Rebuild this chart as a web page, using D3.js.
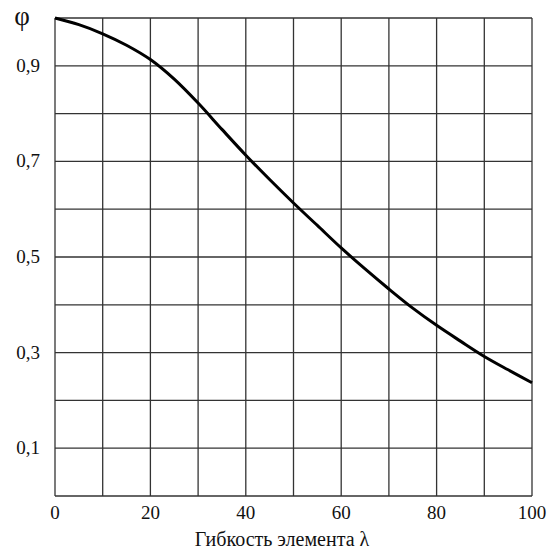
<!DOCTYPE html>
<html lang="ru">
<head>
    <meta charset="UTF-8">
    <script src="https://d3js.org/d3.v7.min.js"></script>
    <title>φ(λ)</title>
    <style>
        body { margin: 0; background: #fff; }
    </style>
</head>
<body>
    <script>
        // curve
        const lambda = [0, 5, 10, 15, 20, 25, 30, 35, 40, 45, 50, 55, 60, 65, 70, 75, 80, 85, 90, 95, 100];
        const phi = [1.0, 0.986, 0.967, 0.943, 0.913, 0.872, 0.822, 0.767, 0.713, 0.662, 0.613, 0.566, 0.519, 0.475, 0.433, 0.393, 0.357, 0.324, 0.292, 0.264, 0.237];
        const xTicks = [0, 20, 40, 60, 80, 100];
        const yTicks = [0.1, 0.3, 0.5, 0.7, 0.9];
        const xTitle = "Гибкость элемента λ";
        const yTitle = "φ";

        const w = 557, h = 559;
        const margin = {top: 18, right: 25, bottom: 63, left: 55};
        const serif = "'Liberation Serif', 'Times New Roman', 'DejaVu Serif', serif";

        const svg = d3.select("body").append("svg")
            .attr("width", w)
            .attr("height", h)
            .attr("font-family", serif);

        const x = d3.scaleLinear().domain([0, 100]).range([margin.left, w - margin.right]);
        const y = d3.scaleLinear().domain([0, 1]).range([h - margin.bottom, margin.top]);

        // grid
        svg.append("g")
            .selectAll("line")
            .data(d3.range(0, 101, 10))
            .join("line")
            .attr("x1", d => x(d)).attr("x2", d => x(d))
            .attr("y1", y(0)).attr("y2", y(1))
            .attr("stroke", "#333").attr("stroke-width", 1.3);

        svg.append("g")
            .selectAll("line")
            .data(d3.range(0, 11).map(i => i / 10))
            .join("line")
            .attr("x1", x(0)).attr("x2", x(100))
            .attr("y1", d => y(d)).attr("y2", d => y(d))
            .attr("stroke", "#333").attr("stroke-width", 1.3);

        // tick labels
        svg.append("g")
            .selectAll("text")
            .data(xTicks)
            .join("text")
            .attr("x", d => x(d))
            .attr("y", y(0) + 23)
            .attr("text-anchor", "middle")
            .attr("font-size", 19)
            .attr("fill", "#111")
            .text(d => d);

        svg.append("g")
            .selectAll("text")
            .data(yTicks)
            .join("text")
            .attr("x", 40)
            .attr("y", d => y(d) + 6)
            .attr("text-anchor", "end")
            .attr("font-size", 19)
            .attr("fill", "#111")
            .text(d => d.toFixed(1).replace(".", ","));

        svg.append("text")
            .attr("x", 22)
            .attr("y", 25)
            .attr("text-anchor", "middle")
            .attr("font-size", 27)
            .attr("fill", "#111")
            .text(yTitle);

        svg.append("text")
            .attr("x", 282)
            .attr("y", 546)
            .attr("text-anchor", "middle")
            .attr("font-size", 20)
            .attr("fill", "#111")
            .text(xTitle);

        // the curve
        const line = d3.line()
            .x((d, i) => x(lambda[i]))
            .y(d => y(d))
            .curve(d3.curveCatmullRom.alpha(0.5));

        svg.append("path")
            .attr("d", line(phi))
            .attr("fill", "none")
            .attr("stroke", "#000")
            .attr("stroke-width", 3);
    </script>
</body>
</html>
